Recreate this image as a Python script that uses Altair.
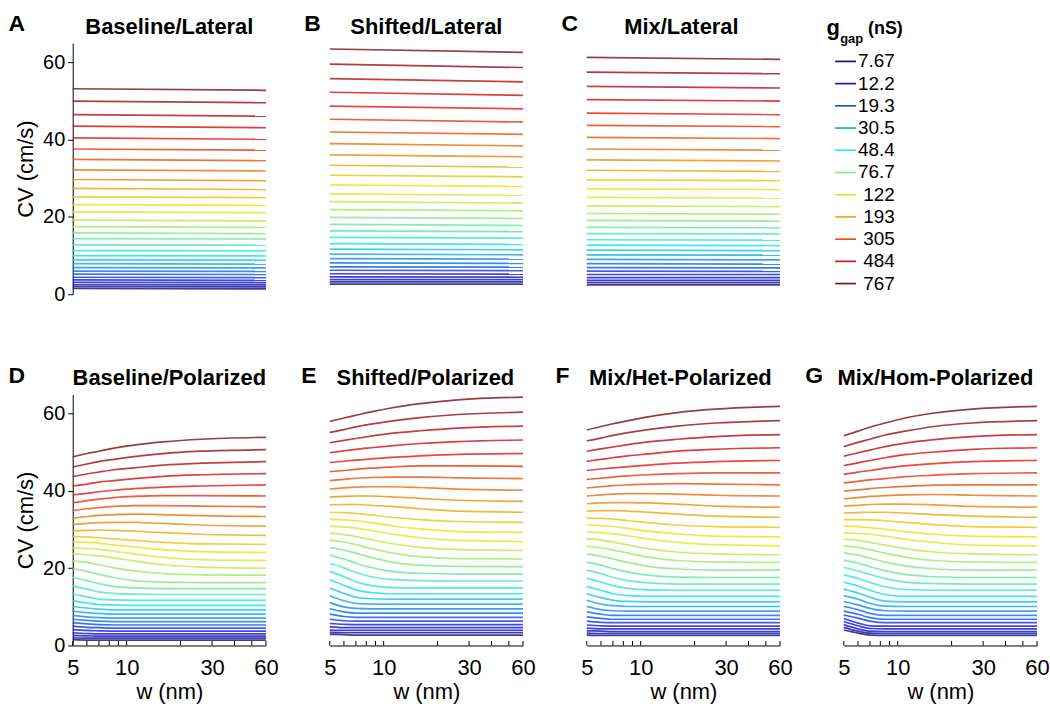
import altair as alt
import pandas as pd

FONT = "Liberation Sans"
PW, PH = 194, 252

# g_gap values (nS) for the 31 curves, lowest to highest
G_GAP = [7.67, 8.94, 10.4, 12.2, 14.2, 16.5, 19.3, 22.5, 26.2, 30.5, 35.6, 41.5, 48.4,
         56.4, 65.8, 76.7, 89.4, 104, 122, 142, 165, 193, 225, 262, 305, 356, 415,
         484, 564, 658, 767]
LEGEND_LABELS = ["7.67", "12.2", "19.3", "30.5", "48.4", "76.7", "122", "193", "305", "484", "767"]
LEGEND_K = [0, 3, 6, 9, 12, 15, 18, 21, 24, 27, 30]

# lateral panels: CV at w = 5 nm and w = 60 nm (index = curve, low g -> high g)
W_LAT = [5, 60]
A_W5 = [1.5, 2.0, 2.5, 3.1, 3.7, 4.4, 5.2, 6.0, 6.9, 7.9, 8.9, 10.0, 11.3, 12.8, 14.4, 15.9,
        17.5, 19.2, 21.3, 23.2, 25.2, 27.4, 29.7, 32.2, 34.9, 37.6, 40.5, 43.5, 46.5, 50.0, 53.2]
A_W60 = [1.4, 1.9, 2.4, 3.0, 3.6, 4.3, 5.1, 5.9, 6.8, 7.8, 8.8, 9.9, 11.2, 12.7, 14.3, 15.7,
         17.3, 19.0, 21.1, 23.0, 25.0, 27.1, 29.4, 31.9, 34.6, 37.3, 40.1, 43.1, 46.1, 49.6, 52.8]
B_W5 = [2.6, 3.2, 3.8, 4.5, 5.3, 6.2, 7.1, 8.1, 9.2, 10.4, 11.7, 13.1, 14.7, 16.4, 18.1, 19.9,
        21.9, 24.0, 26.0, 28.3, 30.8, 33.4, 36.1, 39.0, 42.0, 45.3, 48.7, 52.3, 55.8, 59.6, 63.5]
B_W60 = [2.6, 3.2, 3.8, 4.4, 5.2, 6.1, 7.0, 8.0, 9.1, 10.2, 11.5, 12.9, 14.5, 16.2, 17.8, 19.6,
         21.6, 23.6, 25.6, 27.9, 30.4, 32.9, 35.6, 38.4, 41.4, 44.6, 48.0, 51.5, 55.0, 58.7, 62.6]
C_W5 = [2.4, 3.0, 3.6, 4.3, 5.1, 6.0, 6.9, 7.9, 9.0, 10.2, 11.4, 12.7, 14.1, 15.7, 17.3, 19.1,
        20.9, 22.9, 25.1, 27.3, 29.6, 32.1, 34.8, 37.6, 40.6, 43.7, 46.9, 50.4, 53.8, 57.5, 61.3]
C_W60 = [2.4, 3.0, 3.6, 4.3, 5.1, 5.9, 6.8, 7.8, 8.9, 10.1, 11.3, 12.6, 14.0, 15.6, 17.2, 18.9,
         20.7, 22.7, 24.9, 27.1, 29.4, 31.8, 34.5, 37.3, 40.3, 43.4, 46.5, 50.0, 53.4, 57.1, 60.8]

# polarized panels: CV at these widths for each curve
W_POL = [5, 6, 7, 8.5, 11, 16, 26, 60]
D_CV = [
    [1.5, 1.4, 1.4, 1.4, 1.4, 1.4, 1.4, 1.4],
    [2.0, 1.9, 1.9, 1.9, 1.9, 1.9, 1.9, 1.9],
    [2.6, 2.5, 2.4, 2.4, 2.4, 2.4, 2.4, 2.4],
    [3.3, 3.1, 3.0, 3.0, 3.0, 3.0, 3.0, 3.0],
    [4.1, 3.9, 3.8, 3.7, 3.7, 3.7, 3.7, 3.7],
    [5.0, 4.7, 4.6, 4.5, 4.5, 4.5, 4.5, 4.5],
    [5.9, 5.6, 5.4, 5.3, 5.3, 5.3, 5.3, 5.3],
    [6.8, 6.5, 6.3, 6.2, 6.2, 6.2, 6.2, 6.2],
    [7.8, 7.4, 7.2, 7.1, 7.1, 7.1, 7.1, 7.1],
    [8.9, 8.5, 8.3, 8.1, 8.1, 8.1, 8.1, 8.1],
    [10.1, 9.7, 9.4, 9.2, 9.2, 9.2, 9.2, 9.2],
    [11.6, 11.0, 10.6, 10.5, 10.4, 10.4, 10.4, 10.4],
    [13.3, 12.6, 12.0, 11.8, 11.7, 11.7, 11.7, 11.7],
    [15.3, 14.6, 13.9, 13.5, 13.3, 13.2, 13.2, 13.2],
    [17.6, 16.8, 16.0, 15.3, 14.9, 14.7, 14.7, 14.7],
    [19.9, 19.2, 18.4, 17.6, 16.8, 16.4, 16.3, 16.3],
    [21.9, 21.5, 20.9, 20.1, 19.3, 18.6, 18.3, 18.2],
    [23.7, 23.5, 23.2, 22.7, 21.9, 20.9, 20.3, 20.0],
    [25.3, 25.1, 24.9, 24.4, 23.7, 22.8, 22.2, 22.0],
    [26.8, 26.7, 26.5, 26.0, 25.5, 24.8, 24.3, 24.1],
    [28.2, 28.1, 27.9, 27.6, 27.2, 26.7, 26.3, 26.2],
    [29.7, 29.8, 29.9, 29.8, 29.6, 29.2, 28.8, 28.5],
    [31.3, 31.6, 31.8, 31.9, 31.9, 31.6, 31.2, 30.9],
    [33.0, 33.4, 33.7, 33.9, 34.0, 33.9, 33.6, 33.4],
    [34.9, 35.4, 35.7, 36.0, 36.2, 36.2, 36.1, 35.9],
    [36.9, 37.5, 37.9, 38.3, 38.6, 38.8, 38.8, 38.7],
    [39.0, 39.4, 39.8, 40.2, 40.6, 41.0, 41.3, 41.6],
    [41.3, 41.8, 42.3, 42.7, 43.2, 43.8, 44.2, 44.5],
    [43.7, 44.4, 44.9, 45.5, 46.0, 46.7, 47.2, 47.6],
    [46.2, 47.0, 47.6, 48.2, 48.9, 49.7, 50.3, 50.7],
    [48.8, 49.7, 50.3, 51.1, 51.9, 52.7, 53.4, 53.9],
]
E_CV = [
    [2.9, 2.8, 2.7, 2.7, 2.7, 2.7, 2.7, 2.7],
    [3.4, 3.3, 3.3, 3.3, 3.3, 3.3, 3.3, 3.3],
    [4.0, 3.9, 3.9, 3.9, 3.9, 3.9, 3.9, 3.9],
    [4.8, 4.6, 4.6, 4.6, 4.6, 4.6, 4.6, 4.6],
    [5.7, 5.5, 5.4, 5.4, 5.4, 5.4, 5.4, 5.4],
    [6.8, 6.4, 6.3, 6.3, 6.3, 6.3, 6.3, 6.3],
    [8.1, 7.5, 7.3, 7.3, 7.3, 7.3, 7.3, 7.3],
    [9.5, 8.7, 8.4, 8.4, 8.4, 8.4, 8.4, 8.4],
    [11.1, 10.0, 9.6, 9.5, 9.5, 9.5, 9.5, 9.5],
    [12.9, 11.6, 10.9, 10.7, 10.7, 10.7, 10.7, 10.7],
    [14.9, 13.5, 12.5, 12.1, 12.0, 12.0, 12.0, 12.0],
    [17.0, 15.6, 14.4, 13.7, 13.4, 13.4, 13.4, 13.4],
    [19.2, 17.8, 16.5, 15.5, 15.0, 14.9, 14.9, 14.9],
    [21.3, 20.1, 18.9, 17.8, 17.1, 16.8, 16.7, 16.7],
    [23.4, 22.4, 21.3, 20.2, 19.2, 18.7, 18.5, 18.5],
    [25.4, 24.7, 23.9, 22.8, 21.6, 20.8, 20.5, 20.4],
    [27.3, 26.8, 26.1, 25.1, 24.0, 23.0, 22.5, 22.4],
    [29.1, 28.7, 28.2, 27.4, 26.4, 25.4, 24.8, 24.6],
    [30.9, 30.7, 30.4, 29.8, 28.9, 27.9, 27.2, 26.9],
    [32.7, 32.5, 32.3, 31.8, 31.0, 30.2, 29.5, 29.3],
    [34.5, 34.4, 34.2, 33.8, 33.2, 32.6, 32.1, 31.9],
    [36.4, 36.5, 36.5, 36.3, 36.0, 35.4, 34.8, 34.5],
    [38.4, 38.6, 38.7, 38.7, 38.5, 38.1, 37.6, 37.3],
    [40.5, 40.8, 41.0, 41.1, 41.1, 40.9, 40.5, 40.2],
    [42.7, 43.0, 43.3, 43.5, 43.6, 43.6, 43.4, 43.2],
    [45.0, 45.3, 45.6, 45.9, 46.2, 46.5, 46.5, 46.4],
    [47.4, 47.7, 48.0, 48.3, 48.7, 49.1, 49.5, 49.7],
    [49.9, 50.4, 50.8, 51.2, 51.7, 52.3, 52.8, 53.2],
    [52.5, 53.1, 53.6, 54.2, 54.9, 55.6, 56.3, 56.8],
    [55.2, 55.9, 56.6, 57.3, 58.1, 59.0, 59.8, 60.4],
    [58.0, 58.9, 59.6, 60.5, 61.5, 62.6, 63.6, 64.3],
]
F_CV = [
    [2.7, 2.6, 2.6, 2.6, 2.6, 2.6, 2.6, 2.6],
    [3.2, 3.1, 3.1, 3.1, 3.1, 3.1, 3.1, 3.1],
    [3.8, 3.7, 3.6, 3.6, 3.6, 3.6, 3.6, 3.6],
    [4.5, 4.3, 4.3, 4.3, 4.3, 4.3, 4.3, 4.3],
    [5.3, 5.1, 5.0, 5.0, 5.0, 5.0, 5.0, 5.0],
    [6.3, 6.0, 5.9, 5.9, 5.9, 5.9, 5.9, 5.9],
    [7.4, 7.0, 6.8, 6.8, 6.8, 6.8, 6.8, 6.8],
    [8.7, 8.1, 7.8, 7.8, 7.8, 7.8, 7.8, 7.8],
    [10.1, 9.3, 9.0, 8.9, 8.9, 8.9, 8.9, 8.9],
    [11.7, 10.7, 10.3, 10.1, 10.1, 10.1, 10.1, 10.1],
    [13.4, 12.4, 11.7, 11.4, 11.3, 11.3, 11.3, 11.3],
    [15.3, 14.3, 13.4, 12.9, 12.7, 12.7, 12.7, 12.7],
    [17.4, 16.4, 15.5, 14.8, 14.4, 14.3, 14.3, 14.3],
    [19.5, 18.6, 17.6, 16.8, 16.2, 15.9, 15.9, 15.9],
    [21.6, 20.8, 19.9, 19.0, 18.2, 17.7, 17.6, 17.6],
    [23.7, 23.1, 22.4, 21.5, 20.5, 19.8, 19.5, 19.5],
    [25.7, 25.3, 24.7, 23.9, 22.9, 22.0, 21.6, 21.5],
    [27.6, 27.3, 26.8, 26.0, 25.1, 24.2, 23.7, 23.5],
    [29.4, 29.2, 28.9, 28.4, 27.6, 26.7, 26.1, 25.8],
    [31.2, 31.0, 30.8, 30.3, 29.6, 28.9, 28.3, 28.1],
    [33.0, 32.9, 32.7, 32.3, 31.8, 31.2, 30.8, 30.6],
    [34.8, 34.9, 34.9, 34.8, 34.5, 34.0, 33.5, 33.2],
    [36.7, 36.9, 37.0, 37.0, 36.9, 36.6, 36.1, 35.8],
    [38.7, 39.0, 39.2, 39.3, 39.3, 39.2, 38.9, 38.7],
    [40.8, 41.1, 41.4, 41.6, 41.8, 41.9, 41.8, 41.6],
    [43.0, 43.3, 43.6, 43.9, 44.2, 44.5, 44.7, 44.7],
    [45.3, 45.7, 46.0, 46.3, 46.7, 47.2, 47.6, 47.9],
    [47.7, 48.2, 48.6, 49.1, 49.6, 50.3, 50.8, 51.2],
    [50.3, 50.9, 51.4, 52.0, 52.7, 53.4, 54.1, 54.6],
    [53.0, 53.7, 54.4, 55.1, 55.9, 56.8, 57.6, 58.2],
    [55.8, 56.7, 57.4, 58.2, 59.2, 60.3, 61.2, 61.9],
]
G_CV = [
    [4.0, 3.2, 2.7, 2.6, 2.6, 2.6, 2.6, 2.6],
    [4.7, 3.7, 3.2, 3.1, 3.1, 3.1, 3.1, 3.1],
    [5.4, 4.3, 3.7, 3.6, 3.6, 3.6, 3.6, 3.6],
    [6.2, 5.1, 4.4, 4.3, 4.3, 4.3, 4.3, 4.3],
    [7.0, 5.8, 5.1, 5.0, 5.0, 5.0, 5.0, 5.0],
    [7.9, 7.1, 6.3, 5.9, 5.9, 5.9, 5.9, 5.9],
    [8.9, 8.1, 7.2, 6.8, 6.8, 6.8, 6.8, 6.8],
    [10.1, 9.3, 8.3, 7.8, 7.8, 7.8, 7.8, 7.8],
    [11.4, 10.5, 9.6, 9.0, 8.9, 8.9, 8.9, 8.9],
    [12.9, 12.0, 10.9, 10.2, 10.1, 10.1, 10.1, 10.1],
    [14.6, 13.6, 12.5, 11.5, 11.3, 11.3, 11.3, 11.3],
    [16.4, 15.4, 14.3, 13.2, 12.7, 12.7, 12.7, 12.7],
    [18.3, 17.4, 16.3, 15.2, 14.5, 14.3, 14.3, 14.3],
    [20.2, 19.3, 18.4, 17.3, 16.4, 16.0, 15.9, 15.9],
    [22.1, 21.3, 20.4, 19.4, 18.4, 17.8, 17.6, 17.6],
    [24.0, 23.4, 22.6, 21.6, 20.6, 19.8, 19.5, 19.5],
    [25.8, 25.4, 24.8, 23.9, 22.9, 22.0, 21.6, 21.5],
    [27.5, 27.2, 26.7, 26.0, 25.1, 24.2, 23.7, 23.5],
    [29.2, 29.0, 28.8, 28.3, 27.5, 26.7, 26.0, 25.8],
    [30.9, 30.8, 30.5, 30.1, 29.5, 28.8, 28.3, 28.1],
    [32.6, 32.6, 32.5, 32.3, 31.9, 31.3, 30.8, 30.6],
    [34.3, 34.4, 34.5, 34.5, 34.3, 33.9, 33.5, 33.2],
    [36.1, 36.3, 36.5, 36.6, 36.6, 36.4, 36.0, 35.8],
    [38.0, 38.3, 38.6, 38.8, 39.0, 39.1, 38.9, 38.7],
    [40.0, 40.3, 40.6, 40.9, 41.2, 41.5, 41.6, 41.6],
    [42.1, 42.5, 42.9, 43.2, 43.7, 44.1, 44.5, 44.7],
    [44.3, 44.9, 45.3, 45.9, 46.5, 47.1, 47.6, 47.9],
    [46.6, 47.3, 47.9, 48.6, 49.4, 50.1, 50.8, 51.2],
    [49.0, 49.9, 50.6, 51.5, 52.4, 53.3, 54.1, 54.6],
    [51.5, 52.6, 53.4, 54.5, 55.5, 56.7, 57.6, 58.2],
    [54.3, 55.5, 56.5, 57.6, 58.9, 60.2, 61.2, 61.9],
]

X_TICKS = [5, 6, 7, 8, 9, 10, 20, 30, 40, 50, 60]
X_LABELS = [5, 10, 30, 60]
Y_LABELS = [0, 20, 40, 60]


def jet(t):
    # jet colormap, slightly muted toward grey
    def c(v):
        return max(0.0, min(1.0, v))
    rgb = [c(1.5 - abs(4 * t - 3)), c(1.5 - abs(4 * t - 2)), c(1.5 - abs(4 * t - 1))]
    rgb = [0.84 * v + 0.16 * 0.5 for v in rgb]
    return "#%02x%02x%02x" % tuple(round(v * 255) for v in rgb)


COLORS = [jet(k / 30) for k in range(31)]
color_scale = alt.Scale(domain=list(range(31)), range=COLORS)
x_scale = alt.Scale(type="log", domain=[5, 60], nice=False)
y_scale = alt.Scale(domain=[0, 65], nice=False, zero=False)


def lateral_df(w5, w60):
    rows = []
    for k in range(31):
        rows.append({"k": k, "g": G_GAP[k], "w": W_LAT[0], "cv": w5[k]})
        rows.append({"k": k, "g": G_GAP[k], "w": W_LAT[1], "cv": w60[k]})
    return pd.DataFrame(rows)


def polar_df(arr):
    rows = []
    for k in range(31):
        for w, v in zip(W_POL, arr[k]):
            rows.append({"k": k, "g": G_GAP[k], "w": w, "cv": v})
    return pd.DataFrame(rows)


def text_layer(txt, x, y, size, align="left", weight="bold"):
    return alt.Chart(pd.DataFrame({"t": [txt]})).mark_text(
        font=FONT, fontSize=size, fontWeight=weight, align=align,
        baseline="alphabetic", color="black"
    ).encode(x=alt.value(x), y=alt.value(y), text="t:N")


def panel(df, letter, title, yaxis, xaxis, letter_dx, title_dx, row):
    if yaxis:
        y_axis = alt.Axis(values=Y_LABELS, title="CV (cm/s)", grid=False, tickSize=5,
                          labelPadding=3, labelFontSize=20, titleFontSize=22,
                          titleFontWeight="normal", titlePadding=5, domainColor="black",
                          tickColor="black", labelColor="black", titleColor="black",
                          labelFont=FONT, titleFont=FONT)
    else:
        y_axis = None
    if xaxis:
        x_axis = alt.Axis(values=X_LABELS, format="d", title="w (nm)", grid=False, ticks=False,
                          labelPadding=12, labelFontSize=22, titleFontSize=22,
                          titleFontWeight="normal", titlePadding=3, domainColor="black",
                          labelColor="black", titleColor="black", labelFont=FONT,
                          titleFont=FONT, labelFlush=False, labelOverlap=False)
    else:
        x_axis = None
    lines = alt.Chart(df).mark_line(strokeWidth=1.7, opacity=0.82, interpolate="monotone").encode(
        x=alt.X("w:Q", scale=x_scale, axis=x_axis),
        y=alt.Y("cv:Q", scale=y_scale, axis=y_axis),
        color=alt.Color("k:O", scale=color_scale, legend=None),
        detail="k:O",
        order=alt.Order("w:Q"),
    )
    layers = [lines]
    if xaxis:
        ticks = alt.Chart(pd.DataFrame({"t": X_TICKS})).mark_rule(
            color="black", strokeWidth=1
        ).encode(x=alt.X("t:Q", scale=x_scale), y=alt.value(PH), y2=alt.value(PH - 4.5))
        layers.append(ticks)
    ty = -9.7 if row == 0 else -9.0
    ly = -12.4 if row == 0 else -11.0
    layers.append(text_layer(title, PW / 2 + title_dx, ty, 22, align="center"))
    layers.append(text_layer(letter, letter_dx, ly, 23))
    return alt.layer(*layers).properties(width=PW, height=PH)


A = panel(lateral_df(A_W5, A_W60), "A", "Baseline/Lateral", True, False, -64.4, 0, 0)
B = panel(lateral_df(B_W5, B_W60), "B", "Shifted/Lateral", False, False, -25.7, 0, 0)
C = panel(lateral_df(C_W5, C_W60), "C", "Mix/Lateral", False, False, -25.3, -2, 0)
D = panel(polar_df(D_CV), "D", "Baseline/Polarized", True, True, -64.4, 0, 1)
E = panel(polar_df(E_CV), "E", "Shifted/Polarized", False, True, -28.7, -1, 1)
F = panel(polar_df(F_CV), "F", "Mix/Het-Polarized", False, True, -31.3, -3, 1)
G = panel(polar_df(G_CV), "G", "Mix/Hom-Polarized", False, True, -38.7, -5, 1)

# legend panel
leg_df = pd.DataFrame({"label": LEGEND_LABELS, "k": LEGEND_K})
leg_y = alt.Y("label:N", sort=LEGEND_LABELS,
              scale=alt.Scale(type="point", range=[18.3, 241.3], padding=0), axis=None)
leg_lines = alt.Chart(leg_df).mark_rule(strokeWidth=1.7).encode(
    x=alt.value(-8.7), x2=alt.value(12.3), y=leg_y,
    color=alt.Color("k:O", scale=color_scale, legend=None))
leg_text = alt.Chart(leg_df).mark_text(
    font=FONT, fontSize=19, align="right", baseline="middle", color="black"
).encode(x=alt.value(51.3), y=leg_y, text="label:N")
L = alt.layer(
    leg_lines, leg_text,
    text_layer("g", -17.4, -8.0, 22),
    text_layer("gap", -3.6, -0.5, 13),
    text_layer("(nS)", 24.3, -9.5, 18),
).properties(width=PW, height=PH)

chart = alt.concat(
    A, B, C, L, D, E, F, G, columns=4,
).properties(
    bounds="flush", spacing={"row": 100.6, "column": 64},
    padding={"left": 8, "top": 11, "right": 0, "bottom": 2},
).configure(font=FONT).configure_view(strokeWidth=0, stroke="transparent")

chart.save("out.html", embed_options={"renderer": "svg", "actions": False})
